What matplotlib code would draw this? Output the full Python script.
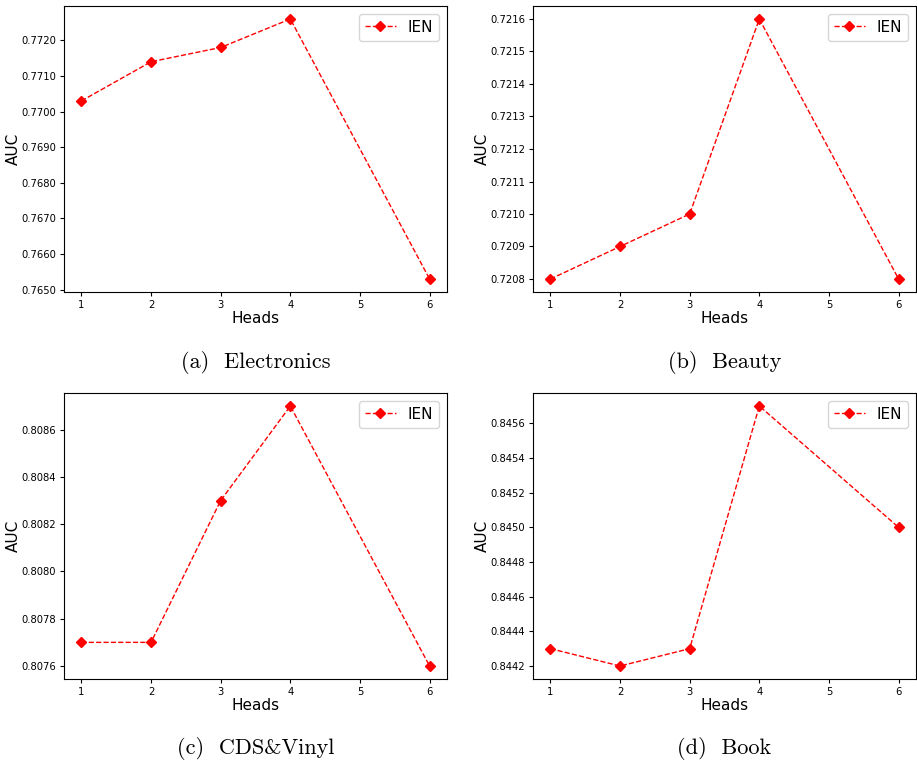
import matplotlib
matplotlib.use("Agg")
import matplotlib.pyplot as plt
from matplotlib.ticker import FormatStrFormatter, MultipleLocator

HEADS = [1, 2, 3, 4, 6]
ELECTRONICS = [0.7703, 0.7714, 0.7718, 0.7726, 0.7653]
BEAUTY = [0.7208, 0.7209, 0.7210, 0.7216, 0.7208]
CDS_VINYL = [0.8077, 0.8077, 0.8083, 0.8087, 0.8076]
BOOK = [0.8443, 0.8442, 0.8443, 0.8457, 0.8450]

CAPTIONS = ["(a)  Electronics", "(b)  Beauty", "(c)  CDS&Vinyl", "(d)  Book"]
STEPS = [0.0010, 0.0001, 0.0002, 0.0002]

fig = plt.figure(figsize=(9.17, 7.61), dpi=100)
W, H = 917, 761
boxes = [(64, 6), (533, 6), (64, 393), (533, 393)]  # left, top in px
aw, ah = 383, 286

for (lx, ty), vals, cap, step in zip(boxes, [ELECTRONICS, BEAUTY, CDS_VINYL, BOOK],
                                      CAPTIONS, STEPS):
    ax = fig.add_axes([lx / W, 1 - (ty + ah) / H, aw / W, ah / H])
    ax.plot(HEADS, vals, "r--", marker="D", markersize=5, lw=1, label="IEN")
    ax.set_xticks(range(1, 7))
    ax.yaxis.set_major_locator(MultipleLocator(step))
    ax.yaxis.set_major_formatter(FormatStrFormatter("%.4f"))
    ax.tick_params(labelsize=7.2, length=3, pad=2.5)
    ax.set_xlabel("Heads", fontsize=11)
    ax.set_ylabel("AUC", fontsize=11)
    ax.xaxis.set_label_coords(0.5, -0.068)
    ax.yaxis.set_label_coords(-0.112 if lx < 400 else -0.112 + 0.0, 0.5)
    ax.legend(loc="upper right", fontsize=11, handlelength=2.0)
    fig.text((lx + aw / 2) / W, 1 - (ty + 356) / H, cap,
             ha="center", va="center", fontsize=16, family="cmr10")

fig.savefig("out.png", dpi=100)
